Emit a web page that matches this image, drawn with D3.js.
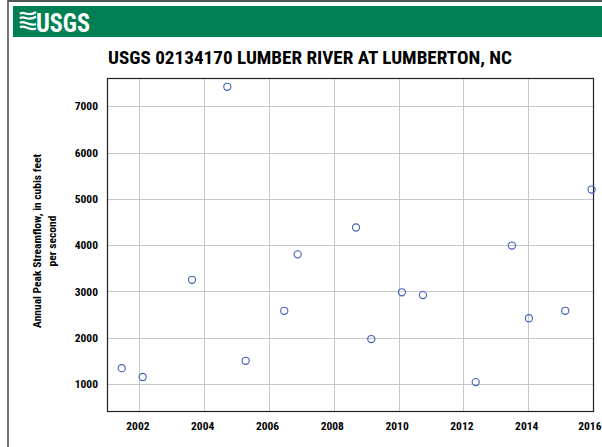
<!DOCTYPE html>
<html>
<head>
<meta charset="utf-8">
<script src="https://cdn.jsdelivr.net/npm/d3@7"></script>
<style>
  body { margin: 0; background: #fff; }
  svg { display: block; }
</style>
</head>
<body>
<script>
// Peak dates and annual peak streamflow (cfs)
const peakDates = [
  "2001-06-16", "2002-02-07", "2003-08-17", "2004-09-18", "2005-04-13",
  "2006-06-22", "2006-11-20", "2008-09-08", "2009-02-27", "2010-02-07",
  "2010-10-02", "2012-05-19", "2013-07-01", "2014-01-09", "2015-02-22",
  "2015-12-16"
];
const peakFlows = [
  1340, 1150, 3250, 7420, 1500,
  2580, 3800, 4380, 1970, 2980,
  2920, 1040, 3990, 2420, 2580,
  5200
];
const yTicks = [1000, 2000, 3000, 4000, 5000, 6000, 7000];
const xTickYears = [2002, 2004, 2006, 2008, 2010, 2012, 2014, 2016];

const width = 602, height = 447;
const plot = { left: 107, top: 78, right: 593, bottom: 411 };
const font = "'Liberation Sans Narrow', 'Roboto Condensed', 'Liberation Sans', Arial, sans-serif";

const svg = d3.select("body").append("svg")
  .attr("width", width)
  .attr("height", height);

// outer frame
svg.append("line")
  .attr("x1", 8).attr("x2", 8).attr("y1", 0).attr("y2", height)
  .attr("stroke", "#777").attr("stroke-width", 2);
svg.append("line")
  .attr("x1", 8).attr("x2", width).attr("y1", 1).attr("y2", 1)
  .attr("stroke", "#555").attr("stroke-width", 2);

// green banner
svg.append("rect")
  .attr("x", 13).attr("y", 6)
  .attr("width", width - 13).attr("height", 31)
  .attr("fill", "#007f55");

// logo waves
const logo = svg.append("g").attr("transform", "translate(20,12)")
  .attr("fill", "none").attr("stroke", "#fff").attr("stroke-width", 2.2);
[0, 4.5, 9, 13.5].forEach((dy, i) => {
  logo.append("path")
    .attr("d", `M0,${dy + 2} C4,${dy - 2} 8,${dy + 6} 16,${dy + (i < 2 ? 0 : 3)}`);
});
svg.append("text")
  .attr("x", 36).attr("y", 32)
  .attr("font-family", font)
  .attr("font-weight", "bold")
  .attr("font-size", 26)
  .attr("fill", "#fff")
  .attr("textLength", 54)
  .attr("lengthAdjust", "spacingAndGlyphs")
  .text("USGS");

// title
svg.append("text")
  .attr("x", 310).attr("y", 64)
  .attr("text-anchor", "middle")
  .attr("font-family", font)
  .attr("font-weight", "bold")
  .attr("font-size", 19)
  .attr("fill", "#000")
  .attr("textLength", 404)
  .attr("lengthAdjust", "spacingAndGlyphs")
  .text("USGS 02134170 LUMBER RIVER AT LUMBERTON, NC");

// scales
const x = d3.scaleTime()
  .domain([new Date(2001, 0, 1), new Date(2016, 0, 1)])
  .range([plot.left, plot.right]);
const y = d3.scaleLinear()
  .domain([415, 7610])
  .range([plot.bottom, plot.top]);

// gridlines
const grid = svg.append("g").attr("stroke", "#c8c8c8").attr("stroke-width", 1);
grid.selectAll(".h").data(yTicks).join("line")
  .attr("x1", plot.left).attr("x2", plot.right)
  .attr("y1", d => Math.round(y(d)) + 0.5).attr("y2", d => Math.round(y(d)) + 0.5);
grid.selectAll(".v").data(xTickYears.slice(0, -1)).join("line")
  .attr("x1", d => Math.round(x(new Date(d, 0, 1))) + 0.5)
  .attr("x2", d => Math.round(x(new Date(d, 0, 1))) + 0.5)
  .attr("y1", plot.top).attr("y2", plot.bottom);

// plot border
svg.append("rect")
  .attr("x", plot.left + 0.5).attr("y", plot.top + 0.5)
  .attr("width", plot.right - plot.left).attr("height", plot.bottom - plot.top)
  .attr("fill", "none").attr("stroke", "#222").attr("stroke-width", 1.2);

// y axis labels
const yAxis = svg.append("g")
  .attr("transform", `translate(${plot.left - 9},0)`)
  .call(d3.axisLeft(y).tickValues(yTicks).tickSize(0).tickFormat(d3.format("d")));
yAxis.select(".domain").remove();
yAxis.selectAll("text")
  .attr("font-family", font).attr("font-weight", "bold")
  .attr("font-size", 11.5).attr("fill", "#000").attr("x", 0);

// x axis labels
const xAxis = svg.append("g")
  .attr("transform", `translate(0,${plot.bottom + 8})`)
  .call(d3.axisBottom(x)
    .tickValues(xTickYears.map(d => new Date(d, 0, 1)))
    .tickSize(0)
    .tickFormat(d3.timeFormat("%Y")));
xAxis.select(".domain").remove();
xAxis.selectAll("text")
  .attr("font-family", font).attr("font-weight", "bold")
  .attr("font-size", 11.5).attr("fill", "#000").attr("x", -2);
// last label is pulled inside the right edge
xAxis.selectAll(".tick").filter((d, i, n) => i === n.length - 1).select("text")
  .attr("text-anchor", "end").attr("x", width - 1 - plot.right);

// y axis title
const yTitle = svg.append("text")
  .attr("transform", "translate(41,241) rotate(-90)")
  .attr("text-anchor", "middle")
  .attr("font-family", font)
  .attr("font-weight", "bold")
  .attr("font-size", 11.5)
  .attr("fill", "#000");
yTitle.append("tspan").attr("x", 0).attr("y", 0).text("Annual Peak Streamflow, in cubis feet");
yTitle.append("tspan").attr("x", 0).attr("y", 15).text("per second");

// points
const points = peakDates.map((d, i) => ({ date: d3.timeParse("%Y-%m-%d")(d), flow: peakFlows[i] }));
svg.append("g")
  .selectAll("circle")
  .data(points)
  .join("circle")
  .attr("cx", d => x(d.date))
  .attr("cy", d => y(d.flow))
  .attr("r", 3.6)
  .attr("fill", "none")
  .attr("stroke", "#3f5fb8")
  .attr("stroke-width", 1.1);
</script>
</body>
</html>
